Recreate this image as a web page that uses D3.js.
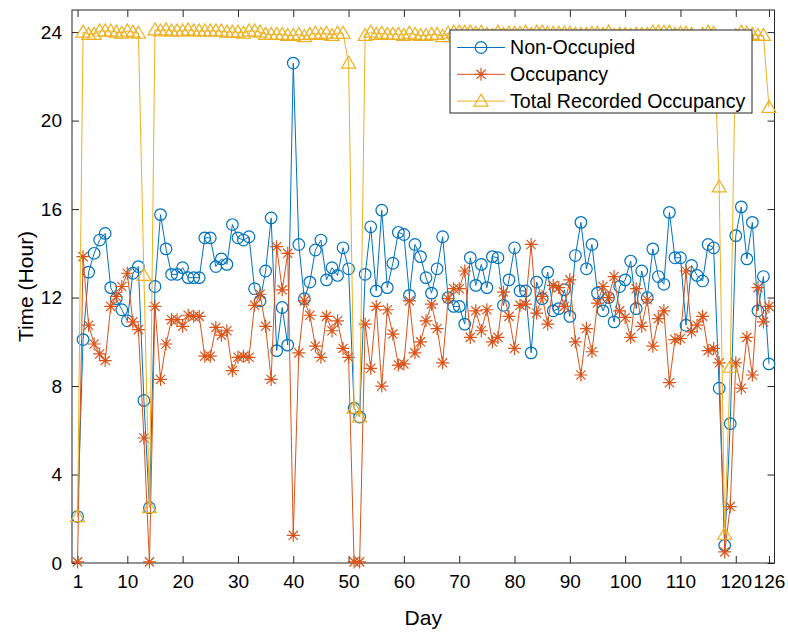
<!DOCTYPE html>
<html>
<head>
<meta charset="utf-8">
<script src="https://cdn.jsdelivr.net/npm/d3@7"></script>
<style>
  body { margin: 0; background: #fff; }
  svg { display: block; }
  text { font-family: "Liberation Sans", Arial, Helvetica, sans-serif; fill: #000; }
</style>
</head>
<body>
<svg id="chart" width="788" height="635"></svg>
<script>
// Daily hours per category over the 126 recorded days
const days = d3.range(1, 127);

const nonOccupied = [
  2.1, 10.1, 13.15, 14.0, 14.6, 14.9, 12.45, 11.95, 11.45, 10.95,
  13.1, 13.4, 7.35, 2.5, 12.5, 15.75, 14.2, 13.05, 13.05, 13.35,
  12.9, 12.9, 12.9, 14.7, 14.7, 13.4, 13.75, 13.5, 15.3, 14.7,
  14.6, 14.75, 12.4, 11.85, 13.2, 15.6, 9.6, 11.55, 9.85, 22.6,
  14.4, 11.95, 12.7, 14.15, 14.6, 12.8, 13.35, 13.0, 14.25, 13.3,
  7.0, 6.6, 13.05, 15.2, 12.3, 15.95, 12.45, 13.55, 14.95, 14.85,
  12.1, 14.4, 13.85, 12.9, 12.2, 13.3, 14.75, 12.0, 11.6, 11.6,
  10.8, 13.8, 12.55, 13.5, 12.45, 13.85, 13.8, 11.65, 12.8, 14.25,
  12.3, 12.3, 9.5, 12.7, 11.95, 13.15, 11.4, 11.5, 12.35, 11.15,
  13.9, 15.4, 13.3, 14.4, 12.2, 11.4, 12.0, 10.9, 12.5, 12.8,
  13.65, 11.5, 13.2, 12.0, 14.2, 12.95, 12.6, 15.85, 13.8, 13.8,
  10.75, 13.45, 13.0, 12.75, 14.4, 14.25, 7.9, 0.8, 6.3, 14.8,
  16.1, 13.75, 15.4, 11.4, 12.95, 9.0
];

const occupancy = [
  0.05, 13.85, 10.75, 9.9, 9.45, 9.15, 11.6, 12.05, 12.5, 13.1,
  10.9, 10.55, 5.65, 0.05, 11.6, 8.3, 9.9, 11.0, 11.0, 10.7,
  11.2, 11.15, 11.15, 9.35, 9.35, 10.65, 10.3, 10.5, 8.7, 9.3,
  9.35, 9.3, 11.65, 12.15, 10.7, 8.3, 14.3, 12.35, 14.0, 1.25,
  9.5, 11.85, 11.2, 9.8, 9.3, 11.15, 10.5, 10.95, 9.7, 9.3,
  0.05, 0.05, 10.8, 8.8, 11.6, 8.0, 11.45, 10.35, 8.95, 9.0,
  11.85, 9.5, 10.0, 10.95, 11.7, 10.6, 9.05, 11.95, 12.4, 12.4,
  13.2, 10.2, 11.4, 10.5, 11.45, 10.0, 10.2, 12.25, 11.15, 9.7,
  11.65, 11.7, 14.4, 11.3, 12.05, 10.8, 12.55, 12.45, 11.6, 12.8,
  10.0, 8.5, 10.6, 9.55, 11.75, 12.5, 12.0, 12.95, 11.4, 11.1,
  10.2, 12.4, 10.7, 11.9, 9.8, 11.05, 11.4, 8.15, 10.1, 10.15,
  13.2, 10.45, 10.75, 11.15, 9.6, 9.7, 9.05, 0.5, 2.55, 9.05,
  7.9, 10.2, 8.5, 12.45, 10.9, 11.6
];

const totalRecorded = [
  2.1, 24.0, 23.9, 23.9, 24.05, 24.05, 24.05, 24.0, 23.95, 24.05,
  24.0, 23.95, 13.0, 2.5, 24.1, 24.05, 24.1, 24.05, 24.05, 24.05,
  24.1, 24.05, 24.05, 24.05, 24.05, 24.05, 24.05, 24.0, 24.0, 24.0,
  23.95, 24.05, 24.05, 24.0, 23.9, 23.9, 23.9, 23.9, 23.85, 23.85,
  23.9, 23.8, 23.9, 23.95, 23.9, 23.95, 23.85, 23.95, 23.95, 22.6,
  7.0, 6.6, 23.85, 24.0, 23.9, 23.95, 23.9, 23.9, 23.9, 23.85,
  23.95, 23.9, 23.85, 23.85, 23.9, 23.9, 23.8, 23.95, 24.0, 24.0,
  24.0, 24.0, 23.95, 24.0, 23.9, 23.85, 24.0, 23.9, 23.95, 23.95,
  23.95, 24.0, 23.9, 24.0, 24.0, 23.95, 23.95, 23.95, 23.95, 23.95,
  23.9, 23.9, 23.9, 23.95, 23.95, 23.9, 24.0, 23.85, 23.9, 23.9,
  23.85, 23.9, 23.9, 23.9, 24.0, 24.0, 24.0, 24.0, 23.9, 23.95,
  23.95, 23.9, 23.75, 23.9, 24.0, 23.95, 17.0, 1.3, 8.85, 23.85,
  24.0, 23.95, 23.9, 23.85, 23.85, 20.6
];

const xTickValues = [1, 10, 20, 30, 40, 50, 60, 70, 80, 90, 100, 110, 120, 126];
const yTickValues = [0, 4, 8, 12, 16, 20, 24];

const seriesNames = ["Non-Occupied", "Occupancy", "Total Recorded Occupancy"];
const seriesColors = ["#0072BD", "#D95319", "#EDB120"];
const seriesMarkers = ["circle", "star", "triangle"];

const W = 788, H = 635;
const plot = { left: 72, right: 774.5, top: 10, bottom: 563 };
const axisColor = "#262626";
const tickLen = 7;

const x = d3.scaleLinear().domain([0, 127]).range([plot.left, plot.right]);
const y = d3.scaleLinear().domain([0, 25]).range([plot.bottom, plot.top]);

const svg = d3.select("#chart");
svg.append("rect").attr("width", W).attr("height", H).attr("fill", "#fff");

// Axes: ticks point inward, mirrored on top and right like a boxed plot
const gx = svg.append("g").attr("transform", `translate(0,${plot.bottom})`)
  .call(d3.axisBottom(x).tickValues(xTickValues).tickSizeInner(-tickLen).tickSizeOuter(0).tickPadding(12));
const gxTop = svg.append("g").attr("transform", `translate(0,${plot.top})`)
  .call(d3.axisTop(x).tickValues(xTickValues).tickSizeInner(-tickLen).tickSizeOuter(0).tickFormat(""));
const gy = svg.append("g").attr("transform", `translate(${plot.left},0)`)
  .call(d3.axisLeft(y).tickValues(yTickValues).tickSizeInner(-tickLen).tickSizeOuter(0).tickPadding(10));
const gyRight = svg.append("g").attr("transform", `translate(${plot.right},0)`)
  .call(d3.axisRight(y).tickValues(yTickValues).tickSizeInner(-tickLen).tickSizeOuter(0).tickFormat(""));

[gx, gxTop, gy, gyRight].forEach(g => {
  g.select(".domain").remove();
  g.selectAll(".tick line").attr("stroke", axisColor).attr("stroke-width", 1);
  g.selectAll(".tick text").attr("font-size", 19).attr("fill", "#000")
    .style("font-family", '"Liberation Sans", Arial, Helvetica, sans-serif');
});

svg.append("rect")
  .attr("x", plot.left).attr("y", plot.top)
  .attr("width", plot.right - plot.left).attr("height", plot.bottom - plot.top)
  .attr("fill", "none").attr("stroke", axisColor).attr("stroke-width", 1);

// Axis labels
svg.append("text")
  .attr("x", (plot.left + plot.right) / 2).attr("y", 625)
  .attr("text-anchor", "middle").attr("font-size", 21).text("Day");
svg.append("text")
  .attr("transform", `translate(33,${(plot.top + plot.bottom) / 2}) rotate(-90)`)
  .attr("text-anchor", "middle").attr("font-size", 21).text("Time (Hour)");

// Marker shapes
function drawMarker(g, kind, cx, cy, color) {
  if (kind === "circle") {
    g.append("circle").attr("cx", cx).attr("cy", cy).attr("r", 5.8)
      .attr("fill", "none").attr("stroke", color).attr("stroke-width", 1.2);
  } else if (kind === "star") {
    const r = 6.5, d = r * Math.SQRT1_2;
    g.append("path")
      .attr("d", `M${cx - r},${cy}H${cx + r}M${cx},${cy - r}V${cy + r}` +
                 `M${cx - d},${cy - d}L${cx + d},${cy + d}M${cx - d},${cy + d}L${cx + d},${cy - d}`)
      .attr("stroke", color).attr("stroke-width", 1.2).attr("fill", "none");
  } else {
    g.append("path")
      .attr("d", `M${cx},${cy - 7}L${cx + 7},${cy + 5}L${cx - 7},${cy + 5}Z`)
      .attr("fill", "none").attr("stroke", color).attr("stroke-width", 1.2);
  }
}

const seriesValues = [nonOccupied, occupancy, totalRecorded];
const line = d3.line().x(d => x(d[0])).y(d => y(d[1]));

const plotArea = svg.append("g");
seriesValues.forEach((vals, i) => {
  const pts = days.map((d, k) => [d, vals[k]]);
  const g = plotArea.append("g");
  g.append("path").datum(pts).attr("d", line)
    .attr("fill", "none").attr("stroke", seriesColors[i]).attr("stroke-width", 1);
  pts.forEach(p => drawMarker(g, seriesMarkers[i], x(p[0]), y(p[1]), seriesColors[i]));
});

// Legend
const lg = svg.append("g");
const lgBox = { x: 450, y: 30, w: 302, h: 83 };
lg.append("rect").attr("x", lgBox.x).attr("y", lgBox.y).attr("width", lgBox.w).attr("height", lgBox.h)
  .attr("fill", "#fff").attr("stroke", axisColor).attr("stroke-width", 1);
seriesNames.forEach((name, i) => {
  const cy = 47.5 + i * 26.8;
  lg.append("line").attr("x1", 457).attr("x2", 505).attr("y1", cy).attr("y2", cy)
    .attr("stroke", seriesColors[i]).attr("stroke-width", 1);
  drawMarker(lg, seriesMarkers[i], 481, cy, seriesColors[i]);
  lg.append("text").attr("x", 510).attr("y", cy + 6.8).attr("font-size", 19.6).text(name);
});
</script>
</body>
</html>
